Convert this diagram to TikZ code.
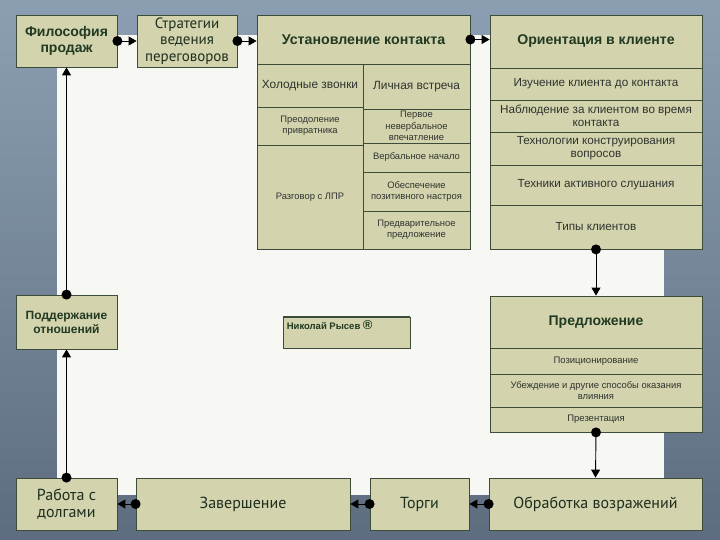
\documentclass[tikz,border=0pt]{standalone}
\usepackage{fontspec}
\setmainfont{Liberation Sans}
\newfontfamily\ptsans{PT Sans}
\usetikzlibrary{arrows.meta}
\definecolor{boxfill}{HTML}{D3D4AE}
\definecolor{boxedge}{HTML}{3C4C38}
\definecolor{paper}{HTML}{F7F7F4}
\definecolor{bgtop}{HTML}{8C9FB2}
\definecolor{bgbot}{HTML}{5D6D7F}
\definecolor{hdrtext}{HTML}{213A21}
\definecolor{subtext}{HTML}{30332E}
\definecolor{lowtext}{HTML}{1E2E1E}
\begin{document}
\begin{tikzpicture}[x=1pt,y=-1pt,
  cell/.style={draw=boxedge, fill=boxfill, line width=0.8pt, inner sep=1pt, align=center, anchor=center},
  hdr/.style={cell, font=\bfseries\fontsize{14.2}{16}\selectfont, text=hdrtext},
  mid/.style={cell, font=\fontsize{11.9}{13.5}\selectfont, text=subtext},
  midb/.style={cell, font=\fontsize{11.7}{13}\selectfont, text=subtext},
  small/.style={cell, font=\fontsize{9.4}{11.2}\selectfont, text=subtext},
  low/.style={cell, font=\ptsans\fontsize{16}{17.5}\selectfont, text=lowtext},
  link/.style={draw=black, line width=0.9pt, -{Triangle[length=8pt,width=9pt]}},
  dot/.style={fill=black}
]
\useasboundingbox (0,0) rectangle (720,540);
\shade[top color=bgtop, bottom color=bgbot] (0,0) rectangle (720,540);
\fill[paper] (57,35) rectangle (664,495);

% top row
\node[hdr, font=\bfseries\fontsize{14}{16}\selectfont, minimum width=101pt, minimum height=52pt] (fil) at (66.5,41) {Философия\\продаж};
\node[low, font=\ptsans\fontsize{15}{16.5}\selectfont, minimum width=100pt, minimum height=52pt] (str) at (187,41) {Стратегии\\ведения\\переговоров};

% Установление контакта
\node[hdr, minimum width=213pt, minimum height=49pt] (ust) at (363.5,39.5) {Установление контакта};
\node[mid, minimum width=106pt, minimum height=43pt] (hol) at (310,85.5) {Холодные звонки};
\node[small, minimum width=106pt, minimum height=38pt] (pre) at (310,126) {Преодоление\\привратника};
\node[small, minimum width=106pt, minimum height=104pt] (raz) at (310,197) {Разговор с ЛПР};
\node[mid, minimum width=107pt, minimum height=45pt] (lic) at (416.5,86.5) {Личная встреча};
\node[small, minimum width=107pt, minimum height=34pt] (per) at (416.5,126) {Первое\\невербальное\\впечатление};
\node[small, minimum width=107pt, minimum height=29pt] (ver) at (416.5,157.5) {Вербальное начало};
\node[small, minimum width=107pt, minimum height=39pt] (obe) at (416.5,191.5) {Обеспечение\\позитивного настроя};
\node[small, minimum width=107pt, minimum height=38pt] (pvp) at (416.5,230) {Предварительное\\предложение};

% Ориентация в клиенте
\node[hdr, font=\bfseries\fontsize{14.1}{16}\selectfont, minimum width=212pt, minimum height=53pt] (ori) at (596,41.5) {Ориентация в клиенте};
\node[midb, minimum width=212pt, minimum height=32pt] (izu) at (596,84) {Изучение клиента до контакта};
\node[midb, minimum width=212pt, minimum height=32pt] (nab) at (596,116) {Наблюдение за клиентом во время\\контакта};
\node[midb, minimum width=212pt, minimum height=33pt] (teh) at (596,148.5) {Технологии конструирования\\вопросов};
\node[midb, minimum width=212pt, minimum height=40pt] (tas) at (596,185) {Техники активного слушания};
\node[midb, minimum width=212pt, minimum height=44pt] (tip) at (596,227) {Типы клиентов};

% Предложение
\node[hdr, font=\bfseries\fontsize{14}{16}\selectfont, minimum width=212pt, minimum height=52pt] (prd) at (596,322) {Предложение};
\node[small, font=\fontsize{9.5}{11}\selectfont, minimum width=212pt, minimum height=26pt] (poz) at (596,361) {Позиционирование};
\node[small, minimum width=212pt, minimum height=33pt] (ube) at (596,390.5) {Убеждение и другие способы оказания\\влияния};
\node[small, font=\fontsize{9.5}{11}\selectfont, minimum width=212pt, minimum height=25pt] (prz) at (596,419.5) {Презентация};

% Поддержание отношений
\node[hdr, font=\bfseries\fontsize{12}{14}\selectfont, minimum width=101pt, minimum height=54pt] (pod) at (66.5,322) {Поддержание\\отношений};

% Николай Рысев
\node[cell, minimum width=127pt, minimum height=31pt,
  label={[anchor=north west, inner sep=0pt, xshift=4pt, yshift=-4pt, font=\bfseries\fontsize{9.5}{11}\selectfont, text=hdrtext]north west:Николай Рысев {\fontsize{13}{13}\selectfont®}}] (nik) at (346.5,332.5) {};
\draw[boxedge, line width=2pt] (nik.north west) -- (nik.north east);

% bottom row
\node[low, minimum width=101pt, minimum height=52pt] (rab) at (66.5,504) {Работа с\\долгами};
\node[low, minimum width=214pt, minimum height=52pt] (zav) at (243,504) {Завершение};
\node[low, minimum width=99pt, minimum height=52pt] (tor) at (419.5,504) {Торги};
\node[low, minimum width=213pt, minimum height=52pt] (obr) at (595.5,504) {Обработка возражений};

% connectors
\draw[link] (fil.east) -- (str.west);
\fill[dot] (fil.east) circle (5pt);
\draw[link] (str.east) -- (str.east -| ust.west);
\fill[dot] (str.east) circle (5pt);
\draw[link] (ust.east) -- (ust.east -| ori.west);
\fill[dot] (ust.east) circle (5pt);
\draw[link] (tip.south) -- (prd.north);
\fill[dot] (tip.south) circle (5pt);
\draw[link] (prz.south) -- (obr.north);
\fill[dot] (prz.south) circle (5pt);
\draw[link] (obr.west) -- (tor.east);
\fill[dot] (obr.west) circle (5pt);
\draw[link] (tor.west) -- (zav.east);
\fill[dot] (tor.west) circle (5pt);
\draw[link] (zav.west) -- (rab.east);
\fill[dot] (zav.west) circle (5pt);
\draw[link] (rab.north) -- (pod.south);
\fill[dot] (rab.north) circle (5pt);
\draw[link] (pod.north) -- (fil.south);
\fill[dot] (pod.north) circle (5pt);
\end{tikzpicture}
\end{document}
